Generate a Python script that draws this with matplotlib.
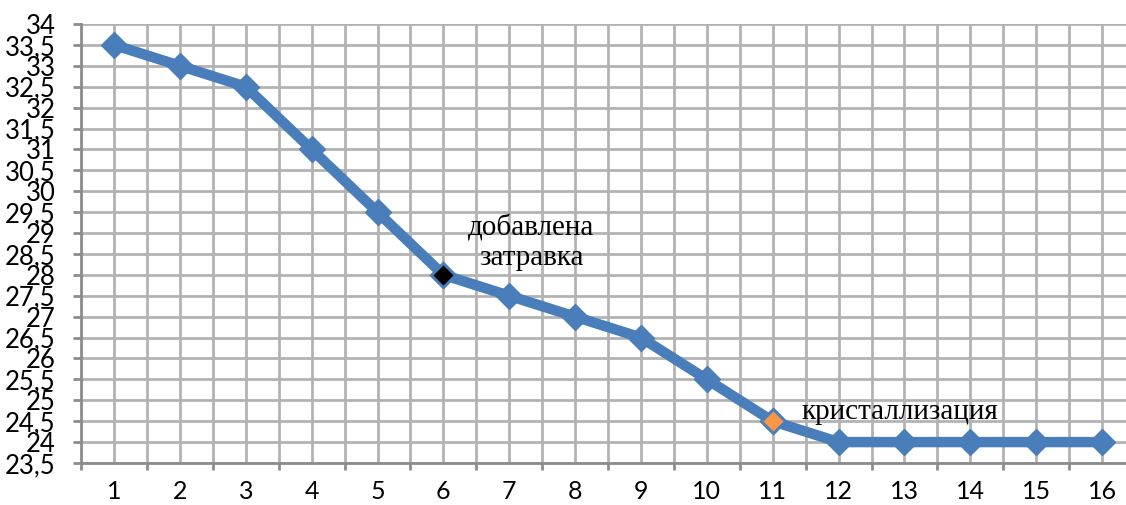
import matplotlib
matplotlib.use("Agg")
import matplotlib.pyplot as plt
from matplotlib.ticker import FixedLocator

categories = list(range(1, 17))
temperature = [33.5, 33, 32.5, 31, 29.5, 28, 27.5, 27, 26.5, 25.5, 24.5, 24, 24, 24, 24, 24]
seed_idx = 5      # point 6
cryst_idx = 10    # point 11
seed_label = "добавлена\nзатравка"
cryst_label = "кристаллизация"

line_color = "#4a7ebb"
grid_color = "#b3b3b3"
axis_color = "#8c8c8c"

fig = plt.figure(figsize=(11.26, 5.05), dpi=100)
ax = fig.add_axes([81.1 / 1126, 1 - 463 / 505, (1135 - 81.1) / 1126, (463 - 24) / 505])

x = list(range(len(categories)))
ax.plot(x, temperature, color=line_color, lw=7.5, marker="D", ms=13.5,
        mfc=line_color, mec=line_color, zorder=3, solid_joinstyle="round")
ax.plot([x[seed_idx]], [temperature[seed_idx]], marker="D", ms=12, mfc="black",
        mec=line_color, mew=2, ls="none", zorder=4)
ax.plot([x[cryst_idx]], [temperature[cryst_idx]], marker="D", ms=12, mfc="#f79646",
        mec=line_color, mew=2, ls="none", zorder=4)

ax.set_xlim(-0.5, len(categories) - 0.5)
ax.set_ylim(23.5, 34)

yt = [23.5 + 0.5 * i for i in range(22)]
ax.set_yticks(yt)
ax.set_yticklabels([("%g" % v).replace(".", ",") for v in yt], fontsize=18.5, family="Lato")

ax.xaxis.set_major_locator(FixedLocator([i - 0.5 for i in range(len(categories) + 1)]))
ax.xaxis.set_minor_locator(FixedLocator(x))
ax.set_xticklabels([])
ax.set_xticklabels([str(c) for c in categories], minor=True, fontsize=18, family="Lato")
ax.tick_params(axis="x", which="minor", length=0, pad=12)
ax.tick_params(axis="x", which="major", length=5, width=2, color=axis_color)
ax.tick_params(axis="y", length=6, width=2, color=axis_color, pad=12.5)

ax.grid(True, which="both", axis="x", color=grid_color, lw=2, zorder=0)
ax.grid(True, which="major", axis="y", color=grid_color, lw=2, zorder=0)
ax.set_axisbelow(True)

for s in ["top", "right"]:
    ax.spines[s].set_visible(False)
for s in ["left", "bottom"]:
    ax.spines[s].set_color(axis_color)
    ax.spines[s].set_linewidth(2)

ax.text(6.33, 28.77, seed_label, ha="center", va="center", fontsize=21,
        family="Liberation Serif", linespacing=1.15, zorder=5)
ax.text(10.44, 24.72, cryst_label, ha="left", va="center", fontsize=21,
        family="Liberation Serif", zorder=5)

fig.savefig("out.png", dpi=100)
